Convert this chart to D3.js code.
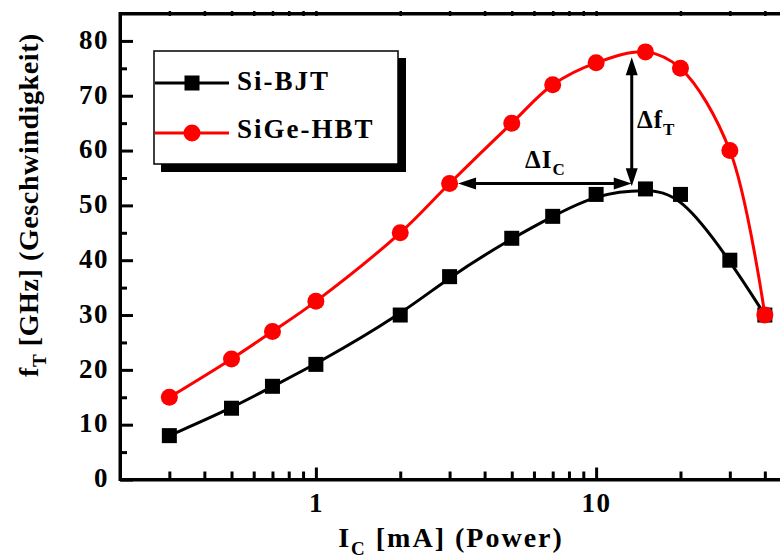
<!DOCTYPE html>
<html>
<head>
<meta charset="utf-8">
<script src="https://cdn.jsdelivr.net/npm/d3@7"></script>
<style>
  html, body { margin: 0; padding: 0; background: #fff; }
  svg { display: block; }
  text { font-family: "Liberation Serif", "Times New Roman", serif; font-weight: bold; fill: #000; }
</style>
</head>
<body>
<svg id="chart" width="780" height="555"></svg>
<script>
// Collector current I_C in mA
const current = [0.3, 0.5, 0.7, 1, 2, 3, 5, 7, 10, 15, 20, 30, 40];
// Transit frequency f_T in GHz
const siBjt   = [8, 13, 17, 21, 30, 37, 44, 48, 52, 53, 52, 40, 30];
const sigeHbt = [15, 22, 27, 32.5, 45, 54, 65, 72, 76, 78, 75, 60, 30];
const seriesNames = ["Si-BJT", "SiGe-HBT"];

const yMajorTicks = [0, 10, 20, 30, 40, 50, 60, 70, 80];
const yMinorTicks = [5, 15, 25, 35, 45, 55, 65, 75];
const xMajorTicks = [1, 10];
const xMinorTicks = [0.3, 0.4, 0.5, 0.6, 0.7, 0.8, 0.9, 2, 3, 4, 5, 6, 7, 8, 9, 20, 30, 40];

// Annotations: current shift at constant f_T, frequency gain at the peak
const deltaIcSpan = [3, 13.4];
const deltaIcLevel = 54;
const deltaFtAt = 13.4;
const deltaFtSpan = [53.5, 77];

const svg = d3.select("#chart");
const x = d3.scaleLog().domain([0.2, 50]).range([120, 792]);
const y = d3.scaleLinear().domain([0, 85]).range([479.5, 13.5]);
const [x0, x1] = x.range();
const [y0, y1] = y.range();

const AX_W = 3;

// ---- axes ----
function styleAxis(g) {
  g.select(".domain").attr("stroke-width", AX_W).attr("stroke", "#000");
  g.selectAll(".tick line").attr("stroke-width", AX_W).attr("stroke", "#000");
  g.selectAll(".tick text").attr("font-size", 27).attr("letter-spacing", 1.5)
    .style("font-family", "'Liberation Serif', 'Times New Roman', serif").style("font-weight", "bold");
}

// bottom
svg.append("g").attr("transform", `translate(0,${y0})`)
  .call(d3.axisBottom(x).tickValues(xMinorTicks).tickSize(-8).tickSizeOuter(0).tickFormat(""))
  .call(styleAxis);
svg.append("g").attr("transform", `translate(0,${y0})`)
  .call(d3.axisBottom(x).tickValues(xMajorTicks).tickSize(-12).tickSizeOuter(0).tickPadding(13)
    .tickFormat(d3.format("d")))
  .call(styleAxis)
  .call(g => g.select(".domain").remove());

// top (small marks only)
svg.append("g").attr("transform", `translate(0,${y1})`)
  .call(d3.axisTop(x).tickValues(xMinorTicks.concat(xMajorTicks)).tickSize(-3).tickSizeOuter(0).tickFormat(""))
  .call(styleAxis)
  .call(g => g.selectAll(".tick line").attr("stroke-width", 2.5).attr("y1", 2.5).attr("y2", -2.5));

// left
svg.append("g").attr("transform", `translate(${x0},0)`)
  .call(d3.axisLeft(y).tickValues(yMinorTicks).tickSize(-7).tickSizeOuter(0).tickFormat(""))
  .call(styleAxis);
svg.append("g").attr("transform", `translate(${x0},0)`)
  .call(d3.axisLeft(y).tickValues(yMajorTicks).tickSize(-13).tickSizeOuter(0).tickPadding(11))
  .call(styleAxis)
  .call(g => g.select(".domain").remove())
  .call(g => g.selectAll(".tick text").attr("dy", "0.27em"));

// right
svg.append("g").attr("transform", `translate(${x1},0)`)
  .call(d3.axisRight(y).tickValues(yMajorTicks).tickSize(-3).tickSizeOuter(0).tickFormat(""))
  .call(styleAxis);

// frame corners
svg.append("path")
  .attr("d", `M${x0},${y1}H${x1}V${y0}H${x0}Z`)
  .attr("fill", "none").attr("stroke", "#000").attr("stroke-width", AX_W);

// ---- axis titles ----
const xt = svg.append("text").attr("x", 451).attr("y", 547).attr("text-anchor", "middle")
  .attr("font-size", 28).attr("letter-spacing", 2);
xt.append("tspan").text("I");
xt.append("tspan").attr("font-size", 19).attr("dy", 8).text("C");
xt.append("tspan").attr("dy", -8).text(" [mA] (Power)");

const yt = svg.append("text").attr("transform", "translate(38,205) rotate(-90)")
  .attr("text-anchor", "middle").attr("font-size", 28).attr("letter-spacing", 0.6);
yt.append("tspan").text("f");
yt.append("tspan").attr("font-size", 19).attr("dy", 8).text("T");
yt.append("tspan").attr("dy", -8).text(" [GHz] (Geschwindigkeit)");

// ---- series ----
const bjtData = current.map((c, i) => [c, siBjt[i]]);
const hbtData = current.map((c, i) => [c, sigeHbt[i]]);

const bjtLine = d3.line().x(d => x(d[0])).y(d => y(d[1])).curve(d3.curveBasis);
const hbtLine = d3.line().x(d => x(d[0])).y(d => y(d[1])).curve(d3.curveCatmullRom.alpha(0.5));

svg.append("path").datum(bjtData).attr("d", bjtLine)
  .attr("fill", "none").attr("stroke", "#000").attr("stroke-width", 3);
const SQ = 15;
svg.append("g").selectAll("rect").data(bjtData).join("rect")
  .attr("x", d => x(d[0]) - SQ / 2).attr("y", d => y(d[1]) - SQ / 2)
  .attr("width", SQ).attr("height", SQ).attr("fill", "#000");

svg.append("path").datum(hbtData).attr("d", hbtLine)
  .attr("fill", "none").attr("stroke", "#ff0000").attr("stroke-width", 3);
const R = 8.5;
svg.append("g").selectAll("circle").data(hbtData).join("circle")
  .attr("cx", d => x(d[0])).attr("cy", d => y(d[1])).attr("r", R).attr("fill", "#ff0000");

// ---- arrows ----
function arrowHead(tipX, tipY, dx, dy) {
  // dx,dy: unit direction the arrow points to
  const L = 18, W = 6;
  const bx = tipX - dx * L, by = tipY - dy * L;
  const px = -dy, py = dx;
  return `M${tipX},${tipY}L${bx + px * W},${by + py * W}L${bx - px * W},${by - py * W}Z`;
}
function doubleArrow(xa, ya, xb, yb) {
  const len = Math.hypot(xb - xa, yb - ya);
  const ux = (xb - xa) / len, uy = (yb - ya) / len;
  const g = svg.append("g");
  g.append("line")
    .attr("x1", xa + ux * 10).attr("y1", ya + uy * 10)
    .attr("x2", xb - ux * 10).attr("y2", yb - uy * 10)
    .attr("stroke", "#000").attr("stroke-width", 3);
  g.append("path").attr("d", arrowHead(xb, yb, ux, uy)).attr("fill", "#000");
  g.append("path").attr("d", arrowHead(xa, ya, -ux, -uy)).attr("fill", "#000");
}
doubleArrow(x(deltaIcSpan[0]) + R, y(deltaIcLevel), x(deltaIcSpan[1]), y(deltaIcLevel));
doubleArrow(x(deltaFtAt), y(deltaFtSpan[0]), x(deltaFtAt), y(deltaFtSpan[1]));

const ic = svg.append("text").attr("x", 525).attr("y", 168).attr("font-size", 25).attr("letter-spacing", 1);
ic.append("tspan").text("\u0394I");
ic.append("tspan").attr("font-size", 17).attr("dy", 7).text("C");

const ft = svg.append("text").attr("x", 637).attr("y", 128).attr("font-size", 25).attr("letter-spacing", 1);
ft.append("tspan").text("\u0394f");
ft.append("tspan").attr("font-size", 17).attr("dy", 7).text("T");

// ---- legend ----
const lg = svg.append("g");
lg.append("rect").attr("x", 161).attr("y", 58).attr("width", 245).attr("height", 114).attr("fill", "#000");
lg.append("rect").attr("x", 154).attr("y", 51).attr("width", 244).attr("height", 113)
  .attr("fill", "#fff").attr("stroke", "#000").attr("stroke-width", 1.5);

const legendRows = [
  { name: seriesNames[0], color: "#000", shape: "square", cy: 83, base: 90 },
  { name: seriesNames[1], color: "#ff0000", shape: "circle", cy: 133, base: 138 }
];
legendRows.forEach(r => {
  lg.append("line").attr("x1", 155).attr("x2", 229).attr("y1", r.cy).attr("y2", r.cy)
    .attr("stroke", r.color).attr("stroke-width", 3);
  if (r.shape === "square") {
    lg.append("rect").attr("x", 192 - SQ / 2).attr("y", r.cy - SQ / 2).attr("width", SQ).attr("height", SQ).attr("fill", r.color);
  } else {
    lg.append("circle").attr("cx", 192).attr("cy", r.cy).attr("r", R).attr("fill", r.color);
  }
  lg.append("text").attr("x", 237).attr("y", r.base).attr("font-size", 27).attr("letter-spacing", 2).text(r.name);
});
</script>
</body>
</html>
